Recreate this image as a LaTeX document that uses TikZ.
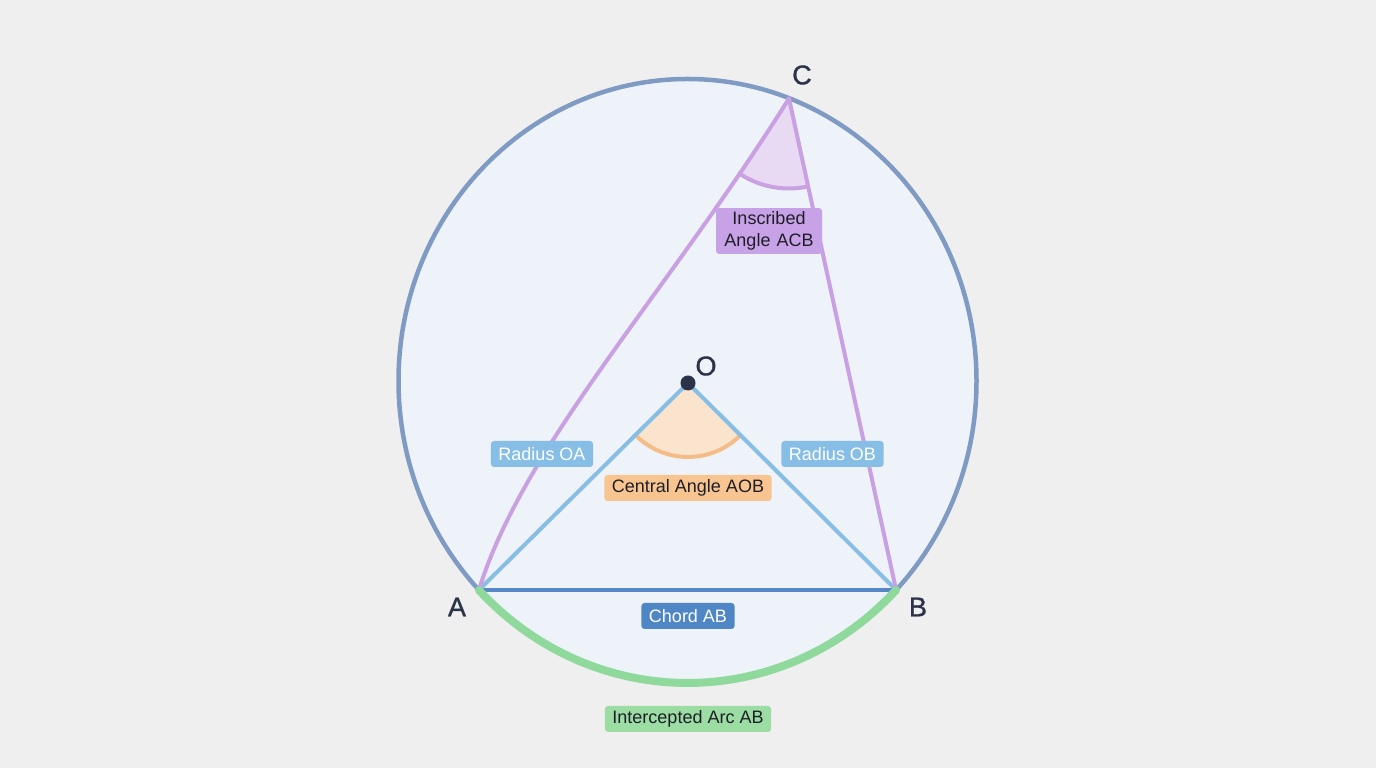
\documentclass[tikz,border=0pt]{standalone}
\usepackage{fontspec}
\setmainfont{Liberation Sans}
\newfontfamily\ptfont[FakeBold=1.2]{Liberation Sans}
\definecolor{bg}{HTML}{EFEFEF}
\definecolor{cfill}{HTML}{EEF2F9}
\definecolor{cstroke}{HTML}{809BC3}
\definecolor{purp}{HTML}{C9A1E2}
\definecolor{purpfill}{HTML}{E9DAF4}
\definecolor{purplab}{HTML}{C8A2E6}
\definecolor{radblue}{HTML}{87BEE6}
\definecolor{orfill}{HTML}{FBE4CD}
\definecolor{orstroke}{HTML}{F4BD88}
\definecolor{orlab}{HTML}{F8C591}
\definecolor{chordc}{HTML}{5688C7}
\definecolor{chordlab}{HTML}{4F86C6}
\definecolor{grn}{HTML}{90D99C}
\definecolor{grnlab}{HTML}{9CDDA4}
\definecolor{ink}{HTML}{2A3347}
\definecolor{dark}{HTML}{1E1E28}
\tikzset{
  lab/.style={rounded corners=3pt, inner xsep=7.5pt, inner ysep=0pt, minimum height=26pt,
    font=\fontsize{18}{22}\selectfont},
  ptlab/.style={font=\ptfont\fontsize{27}{30}\selectfont, text=ink},
  purpline/.style={draw=purp, line width=4pt, line cap=round, line join=round},
  radline/.style={draw=radblue, line width=4pt, line cap=round},
}
\begin{document}
\begin{tikzpicture}[x=1pt,y=1pt]
\fill[bg] (0,0) rectangle (1376,768);
\useasboundingbox (0,0) rectangle (1376,768);
\coordinate (E) at (687.5,387);
\coordinate (O) at (688,385);
\coordinate (A) at (478.9,178);
\coordinate (B) at (896.1,178);
\coordinate (C) at (789,669.5);
\coordinate (c1) at (665.4,472.6);
\coordinate (c2) at (523.4,322);
% circle
\draw[fill=cfill, draw=cstroke, line width=4.5pt] (E) ellipse[x radius=289pt, y radius=302pt];
% central angle sector
\fill[orfill] (O) -- ++(224.7:74pt) arc[start angle=224.7, end angle=315.1, radius=74pt] -- cycle;
\draw[orstroke, line width=4pt] (O) ++(224.7:74pt) arc[start angle=224.7, end angle=315.1, radius=74pt];
% inscribed angle sector
\fill[purpfill] (C) -- ++(237.8:90pt) arc[start angle=237.8, end angle=282.3, radius=90pt] -- cycle;
\draw[purp, line width=4pt] (C) ++(237.8:90pt) arc[start angle=237.8, end angle=282.3, radius=90pt];
% chord
\draw[chordc, line width=4pt] (A) -- (B);
% radii
\draw[radline] (O) -- (A);
\draw[radline] (O) -- (B);
% inscribed angle sides
\draw[purpline] (C) .. controls (c1) and (c2) .. (A);
\draw[purpline] (C) -- (B);
% intercepted arc
\draw[grn, line width=8pt, line cap=round] (A) arc[start angle=223.8, end angle=316.2, x radius=289pt, y radius=302pt];
% center dot
\fill[ink] (O) circle[radius=7.5pt];
% labels
\node[lab, fill=purplab, text=dark, align=center, inner ysep=3.5pt, text width=91pt, font=\fontsize{18}{22}\selectfont] (lins) at (769,537) {Inscribed\\Angle ACB};
\node[lab, fill=radblue, text=white] (loa) at (542,314) {Radius OA};
\node[lab, fill=radblue, text=white] (lob) at (832.5,314) {Radius OB};
\node[lab, fill=orlab, text=dark] (lcen) at (688,280) {Central Angle AOB};
\node[lab, fill=chordlab, text=white] (lch) at (688,152) {Chord AB};
\node[lab, fill=grnlab, text=dark] (larc) at (688,49) {Intercepted Arc AB};
% point labels
\node[ptlab] (lA) at (457,161) {A};
\node[ptlab] (lB) at (918,161) {B};
\node[ptlab] (lC) at (802,693) {C};
\node[ptlab] (lO) at (706,402) {O};
\end{tikzpicture}
\end{document}
